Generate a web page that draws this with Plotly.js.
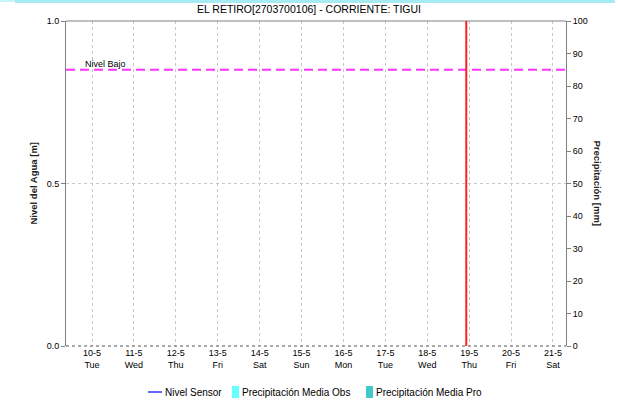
<!DOCTYPE html>
<html>
<head>
<meta charset="utf-8">
<script src="https://cdn.plot.ly/plotly-3.0.1.min.js"></script>
<style>
html,body{margin:0;padding:0;background:#fff;}
#wrap{position:relative;width:618px;height:401px;}
#chart{width:618px;height:401px;}
#topbar{position:absolute;left:15px;top:0;width:600px;height:3px;background:#a6ebf2;z-index:5;}
#topbar2{position:absolute;left:0;top:0;width:15px;height:2px;background:#c8f3f7;z-index:5;}
</style>
</head>
<body>
<div id="wrap">
<div id="topbar"></div><div id="topbar2"></div>
<div id="chart"></div>
</div>
<script>
// Data
var title = 'EL RETIRO[2703700106] - CORRIENTE: TIGUI';
var days = ['2022-05-10','2022-05-11','2022-05-12','2022-05-13','2022-05-14','2022-05-15','2022-05-16','2022-05-17','2022-05-18','2022-05-19','2022-05-20','2022-05-21'];
var dayLabels = ['10-5<br>Tue','11-5<br>Wed','12-5<br>Thu','13-5<br>Fri','14-5<br>Sat','15-5<br>Sun','16-5<br>Mon','17-5<br>Tue','18-5<br>Wed','19-5<br>Thu','20-5<br>Fri','21-5<br>Sat'];
var seriesNames = ['Nivel Sensor','Precipitación Media Obs','Precipitación Media Pro'];
var seriesColors = ['#0000ff','#66ffff','#40c8c8'];
var nivelSensor = [null,null,null,null,null,null,null,null,null,null,null,null];
var precipObs = [0,0,0,0,0,0,0,0,0,0,0,0];
var precipPro = [0,0,0,0,0,0,0,0,0,0,0,0];
var nivelBajo = 0.85;
var nowTime = '2022-05-18 22:20';
var xRange = ['2022-05-09 09:05','2022-05-21 07:27'];
var yLeftTicks = [0, 0.5, 1.0];
var yLeftLabels = ['0.0','0.5','1.0'];
var yRightTicks = [0,10,20,30,40,50,60,70,80,90,100];

var FONT = 'Liberation Sans, Arial, sans-serif';
var PL = 66, PW = 500, PB = 346, PH = 325;
function px(x){ return (x - PL) / PW; }
function py(y){ return (PB - y) / PH; }

var traces = [
  {x: days, y: nivelSensor, type:'scatter', mode:'lines', name:seriesNames[0],
   line:{color:seriesColors[0], width:1}, yaxis:'y', connectgaps:false},
  {x: days, y: precipObs, type:'bar', name:seriesNames[1],
   marker:{color:seriesColors[1]}, yaxis:'y2'},
  {x: days, y: precipPro, type:'bar', name:seriesNames[2],
   marker:{color:seriesColors[2]}, yaxis:'y2'}
];

// custom legend (styling positions only)
var legY = 392;
var legShapes = [
  {type:'line', xref:'paper', yref:'paper', x0:px(148), x1:px(162), y0:py(legY), y1:py(legY), line:{color:seriesColors[0], width:1.2}},
  {type:'rect', xref:'paper', yref:'paper', x0:px(232), x1:px(239), y0:py(386), y1:py(398), line:{width:0}, fillcolor:seriesColors[1]},
  {type:'rect', xref:'paper', yref:'paper', x0:px(366), x1:px(373), y0:py(386), y1:py(398), line:{width:0}, fillcolor:seriesColors[2]}
];
var legText = [[165, seriesNames[0]], [242, seriesNames[1]], [376, seriesNames[2]]].map(function(t){
  return {xref:'paper', yref:'paper', x:px(t[0]), y:py(legY), xanchor:'left', yanchor:'middle',
    text:t[1], showarrow:false, font:{family:FONT, size:10, color:'#000'}, xshift:-2};
});

var layout = {
  width:618, height:401,
  margin:{l:66, r:52, t:21, b:55},
  paper_bgcolor:'#ffffff', plot_bgcolor:'#ffffff',
  font:{family:FONT, size:9, color:'#000'},
  title:{text:title, font:{family:FONT, size:10.5, color:'#000'}, x:0.5, xanchor:'center', y:0.985, yanchor:'top'},
  showlegend:false,
  barmode:'group',
  xaxis:{type:'date', range:xRange, tickmode:'array', tickvals:days, ticktext:dayLabels,
    showgrid:true, gridcolor:'#c8c8c8', griddash:'dot', gridwidth:1,
    showline:false, zeroline:false, ticks:'', tickfont:{family:FONT, size:9, color:'#000'}},
  yaxis:{range:[0,1], tickmode:'array', tickvals:yLeftTicks, ticktext:yLeftLabels,
    showgrid:true, gridcolor:'#c8c8c8', griddash:'dot', zeroline:false,
    showline:true, linecolor:'#808080', linewidth:1, ticks:'outside', ticklen:4, tickcolor:'#808080',
    tickfont:{family:FONT, size:9, color:'#000'}},
  yaxis2:{range:[0,100], overlaying:'y', side:'right', tickmode:'array', tickvals:yRightTicks,
    showgrid:false, zeroline:false, showline:true, linecolor:'#808080', linewidth:1,
    ticks:'outside', ticklen:4, tickcolor:'#808080', tickfont:{family:FONT, size:9, color:'#000'}},
  shapes:[
    {type:'line', xref:'paper', yref:'paper', x0:0, x1:1, y0:1, y1:1, line:{color:'#808080', width:1}},
    {type:'line', xref:'paper', yref:'paper', x0:0, x1:1, y0:0, y1:0, line:{color:'#555555', width:1, dash:'dot'}},
    {type:'line', xref:'paper', yref:'y', x0:0, x1:1, y0:nivelBajo, y1:nivelBajo, line:{color:'#ff33ff', width:2, dash:'9px,5px'}},
    {type:'line', xref:'x', yref:'paper', x0:nowTime, x1:nowTime, y0:0, y1:1, line:{color:'#ff2020', width:2}}
  ].concat(legShapes),
  annotations:[
    {xref:'paper', yref:'y', x:0.034, y:nivelBajo, xanchor:'left', yanchor:'bottom', yshift:-1,
     text:'Nivel Bajo', showarrow:false, font:{family:FONT, size:9, color:'#000'}},
    {xref:'paper', yref:'paper', x:-0.066, y:0.5, xanchor:'center', yanchor:'middle', textangle:-90,
     text:'<b>Nivel del Agua [m]</b>', showarrow:false, font:{family:FONT, size:9.5, color:'#222'}},
    {xref:'paper', yref:'paper', x:1.062, y:0.5, xanchor:'center', yanchor:'middle', textangle:90,
     text:'<b>Precipitación [mm]</b>', showarrow:false, font:{family:FONT, size:9.5, color:'#222'}}
  ].concat(legText)
};

Plotly.newPlot('chart', traces, layout, {displayModeBar:false, staticPlot:true});
</script>
</body>
</html>
